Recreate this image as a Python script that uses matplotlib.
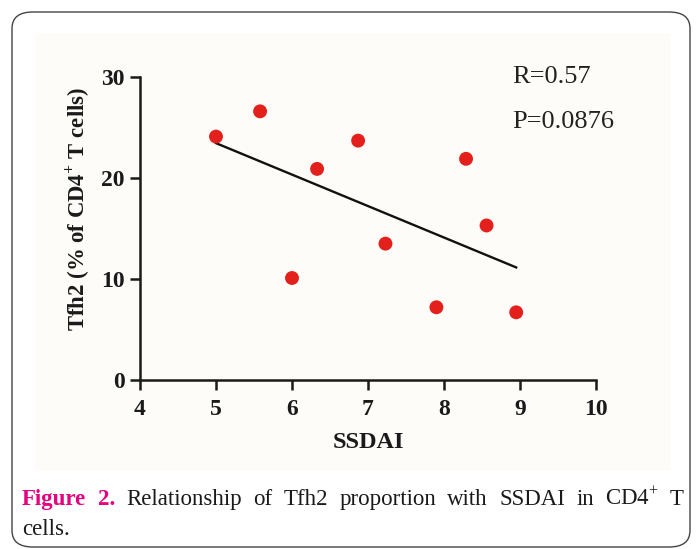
import matplotlib
matplotlib.use("Agg")
import matplotlib.pyplot as plt
import numpy as np
from matplotlib.patches import FancyBboxPatch, Rectangle

plt.rcParams['font.family'] = ['Liberation Serif', 'DejaVu Serif']
plt.rcParams['mathtext.fontset'] = 'custom'
plt.rcParams['mathtext.rm'] = 'Liberation Serif'
plt.rcParams['mathtext.bf'] = 'Liberation Serif:bold'

ssdai = [5.0, 5.58, 6.0, 6.33, 6.87, 7.23, 7.9, 8.29, 8.56, 8.95]
tfh2 = [24.1, 26.6, 10.1, 20.9, 23.7, 13.5, 7.2, 21.9, 15.3, 6.7]
xticks = [4, 5, 6, 7, 8, 9, 10]
yticks = [0, 10, 20, 30]
stats = ["R=0.57", "P=0.0876"]

W, H = 697, 549
fig = plt.figure(figsize=(W / 100, H / 100), dpi=100)
fig.patch.set_facecolor('white')

def fx(px):
    return px / W

def fy(py):
    return 1 - py / H

# outer rounded border
border = FancyBboxPatch((fx(12), fy(547)), fx(690) - fx(12), fy(12) - fy(547),
                        boxstyle="round,pad=0,rounding_size=0.03",
                        transform=fig.transFigure, facecolor='white',
                        edgecolor='#444444', linewidth=1.0, zorder=-2)
fig.patches.append(border)
# cream panel
panel = Rectangle((fx(35), fy(471)), fx(671) - fx(35), fy(33) - fy(471),
                  transform=fig.transFigure, facecolor='#fdfcf9',
                  edgecolor='none', zorder=-1)
fig.patches.append(panel)

ax = fig.add_axes([fx(140), fy(380), fx(596) - fx(140), fy(77) - fy(380)])
ax.set_facecolor('none')
ax.scatter(ssdai, tfh2, s=100, color='#e3201b', edgecolors='none', zorder=3,
           clip_on=False)

slope, intercept = np.polyfit(ssdai, tfh2, 1)
xl = np.array([min(ssdai), max(ssdai)])
ax.plot(xl, slope * xl + intercept, color='#111111', lw=1.7, zorder=2)

ax.set_xlim(4, 10)
ax.set_ylim(0, 30)
ax.set_xticks(xticks)
ax.set_yticks(yticks)
ax.set_xticklabels([str(t) for t in xticks], fontsize=17, fontweight='bold')
ax.set_yticklabels([str(t) for t in yticks], fontsize=17, fontweight='bold')
for s in ['top', 'right']:
    ax.spines[s].set_visible(False)
for s in ['left', 'bottom']:
    ax.spines[s].set_linewidth(1.8)
    ax.spines[s].set_color('#1a1a1a')
ax.tick_params(direction='out', length=7, width=1.8, pad=4, colors='#1a1a1a')
ax.tick_params(axis='x', pad=7)

ax.set_xlabel("SSDAI", fontsize=17.5, fontweight='bold', labelpad=8, color='#1a1a1a')
fig.text(fx(78), fy(209), r"Tfh2 (% of CD4$^{\mathbf{+}}$ T cells)", rotation=90,
         fontsize=16.4, fontweight='bold', ha='center', va='center', color='#1a1a1a')

fig.text(fx(512), fy(77), stats[0], fontsize=19, ha='left', va='center', color='#222222')
fig.text(fx(512), fy(122), stats[1], fontsize=19, ha='left', va='center', color='#222222')

# caption, justified first line
fig.canvas.draw()
renderer = fig.canvas.get_renderer()
words = [("Figure", 'bold', '#e4007f'), ("2.", 'bold', '#e4007f'),
         ("Relationship", 'normal', '#1a1a1a'), ("of", 'normal', '#1a1a1a'),
         ("Tfh2", 'normal', '#1a1a1a'), ("proportion", 'normal', '#1a1a1a'),
         ("with", 'normal', '#1a1a1a'), ("SSDAI", 'normal', '#1a1a1a'),
         ("in", 'normal', '#1a1a1a'), ("CD4$^{+}$", 'normal', '#1a1a1a'),
         ("T", 'normal', '#1a1a1a')]
cap_fs = 16.5
x0, x1 = 22, 684
arts = []
widths = []
for w, wt, c in words:
    t = fig.text(0, fy(505), w, fontsize=cap_fs, fontweight=wt, color=c,
                 ha='left', va='baseline')
    bb = t.get_window_extent(renderer)
    arts.append(t)
    widths.append(bb.width)
gap = ((x1 - x0) - sum(widths)) / (len(words) - 1)
cx = x0
for t, wd in zip(arts, widths):
    t.set_x(fx(cx))
    cx += wd + gap
fig.text(fx(22), fy(535), "cells.", fontsize=cap_fs, color='#1a1a1a',
         ha='left', va='baseline')

fig.savefig("out.png", dpi=100, facecolor='white')
